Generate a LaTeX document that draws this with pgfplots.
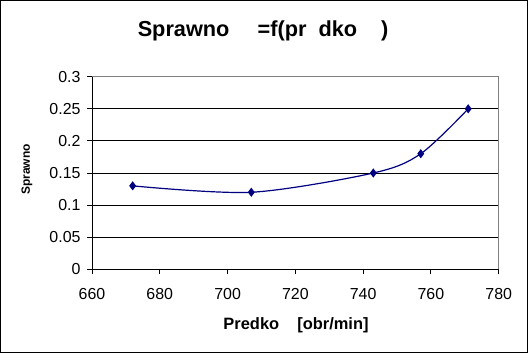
\documentclass[border=0pt]{standalone}
\usepackage{pgfplots}
\pgfplotsset{compat=1.18}
\usepackage{fontspec}
\setmainfont{Liberation Sans}
\definecolor{navy}{RGB}{0,0,128}
\begin{document}
\begin{tikzpicture}[x=1bp,y=1bp]
\useasboundingbox (0,0) rectangle (528,353);
\draw[line width=1.2bp] (0.6,0.6) rectangle (527.4,352.4);
\node[font=\bfseries\fontsize{21.8}{26}\selectfont] at (263,322) {Sprawno\hspace{1.3em}=f(pr\hspace{0.55em}dko\hspace{1.1em})};
\node[font=\bfseries\fontsize{16.5}{20}\selectfont] at (296,28) {Predko\hspace{1.1em}[obr/min]};
\node[font=\bfseries\fontsize{12}{14}\selectfont, rotate=90] at (27,183.5) {Sprawno};
\begin{axis}[
  at={(92bp,83.7bp)}, anchor=south west,
  scale only axis, width=406.7bp, height=192.6bp,
  xmin=660, xmax=780, ymin=0, ymax=0.3,
  xtick={660,680,700,720,740,760,780},
  ytick={0,0.05,0.1,0.15,0.2,0.25,0.3},
  yticklabels={0,0.05,0.1,0.15,0.2,0.25,0.3},
  scaled y ticks=false,
  axis lines*=left,
  axis line style={black, line width=1bp},
  tick align=outside,
  major tick length=5bp,
  tick style={black, line width=1bp},
  ymajorgrids,
  grid style={black, line width=1bp},
  /pgf/number format/assume math mode=true,
  /pgf/number format/1000 sep={},
  ticklabel style={font=\fontsize{16}{19}\selectfont},
  xticklabel style={yshift=-11bp},
  yticklabel style={xshift=-3bp},
  clip=false,
]
\addplot[color=navy, line width=1.2bp, smooth, mark=diamond*, mark size=3.6bp, mark options={fill=navy}]
  coordinates {(672,0.13)(707,0.12)(743,0.15)(757,0.18)(771,0.25)};
\draw[gray, line width=1bp] (rel axis cs:0,1) -- (rel axis cs:1,1) -- (rel axis cs:1,0);
\end{axis}
\end{tikzpicture}
\end{document}
